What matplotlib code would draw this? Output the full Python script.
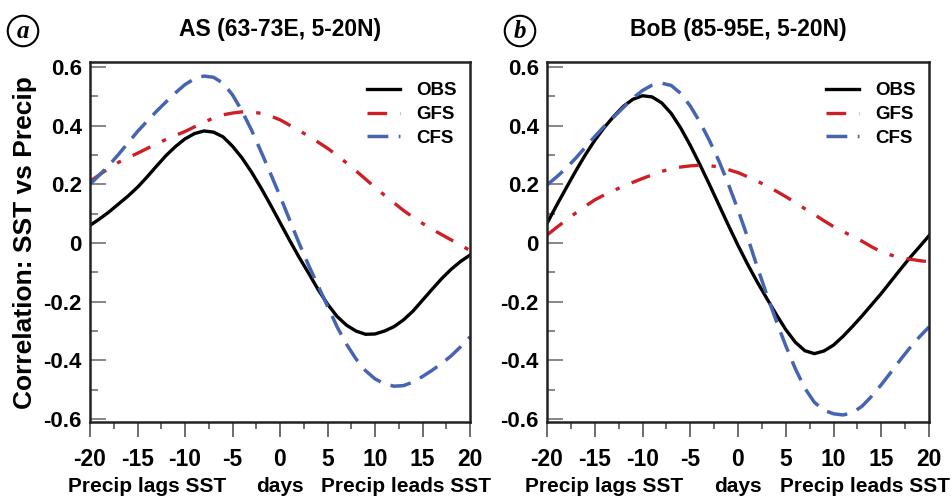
import numpy as np
import matplotlib
matplotlib.use("Agg")
import matplotlib.pyplot as plt
from matplotlib.ticker import MultipleLocator

plt.rcParams['font.family'] = ['Liberation Sans', 'DejaVu Sans']
plt.rcParams['font.weight'] = 'bold'
plt.rcParams['axes.unicode_minus'] = False

# lag in days (negative: precip lags SST)
days = list(range(-20, 21))

# Arabian Sea box
as_obs = [0.060, 0.082, 0.106, 0.133, 0.160, 0.190, 0.225, 0.262, 0.298, 0.329,
          0.355, 0.373, 0.382, 0.378, 0.362, 0.330, 0.290, 0.242, 0.188, 0.130,
          0.070, 0.010, -0.048, -0.102, -0.158, -0.208, -0.250, -0.280, -0.300, -0.311,
          -0.310, -0.300, -0.285, -0.262, -0.232, -0.195, -0.158, -0.122, -0.090, -0.063,
          -0.041]
as_gfs = [0.210, 0.233, 0.255, 0.275, 0.291, 0.306, 0.322, 0.338, 0.353, 0.367,
          0.380, 0.396, 0.412, 0.426, 0.437, 0.443, 0.447, 0.447, 0.442, 0.433,
          0.420, 0.402, 0.384, 0.364, 0.344, 0.323, 0.299, 0.273, 0.246, 0.218,
          0.190, 0.163, 0.137, 0.111, 0.088, 0.067, 0.047, 0.029, 0.011, -0.008,
          -0.025]
as_cfs = [0.200, 0.232, 0.265, 0.302, 0.341, 0.380, 0.415, 0.449, 0.481, 0.512,
          0.540, 0.560, 0.569, 0.565, 0.545, 0.505, 0.450, 0.385, 0.312, 0.237,
          0.160, 0.080, 0.000, -0.075, -0.145, -0.215, -0.285, -0.345, -0.395, -0.435,
          -0.463, -0.480, -0.488, -0.486, -0.474, -0.455, -0.434, -0.411, -0.385, -0.354,
          -0.320]

# Bay of Bengal box
bob_obs = [0.067, 0.128, 0.187, 0.245, 0.300, 0.350, 0.394, 0.432, 0.466, 0.490,
           0.502, 0.498, 0.478, 0.442, 0.392, 0.333, 0.268, 0.200, 0.130, 0.060,
           -0.008, -0.072, -0.132, -0.188, -0.243, -0.295, -0.338, -0.367, -0.377, -0.368,
           -0.348, -0.318, -0.284, -0.248, -0.210, -0.172, -0.131, -0.090, -0.050, -0.013,
           0.025]
bob_gfs = [0.027, 0.053, 0.078, 0.102, 0.125, 0.147, 0.164, 0.179, 0.194, 0.207,
           0.220, 0.232, 0.244, 0.253, 0.259, 0.263, 0.265, 0.264, 0.259, 0.250,
           0.240, 0.226, 0.211, 0.195, 0.177, 0.158, 0.138, 0.117, 0.097, 0.076,
           0.056, 0.039, 0.023, 0.006, -0.013, -0.030, -0.041, -0.049, -0.055, -0.060,
           -0.064]
bob_cfs = [0.198, 0.225, 0.255, 0.289, 0.326, 0.363, 0.398, 0.430, 0.462, 0.494,
           0.520, 0.538, 0.545, 0.537, 0.510, 0.467, 0.413, 0.350, 0.280, 0.200,
           0.113, 0.020, -0.080, -0.175, -0.265, -0.350, -0.428, -0.495, -0.543, -0.570,
           -0.582, -0.586, -0.578, -0.556, -0.522, -0.483, -0.441, -0.398, -0.357, -0.320,
           -0.286]

panels = [
    ("AS (63-73E, 5-20N)", "a", as_obs, as_gfs, as_cfs),
    ("BoB (85-95E, 5-20N)", "b", bob_obs, bob_gfs, bob_cfs),
]

W, H = 952, 501
fig = plt.figure(figsize=(W / 100, H / 100), dpi=100)

lefts = [90, 547]
widths = [380, 382]
for i, (title, tag, obs, gfs, cfs) in enumerate(panels):
    ax = fig.add_axes([lefts[i] / W, 1 - 422 / H, widths[i] / W, 360 / H])
    ax.plot(days, obs, color='black', lw=2.4, label='OBS')
    ax.plot(days, gfs, color='#cf1f26', lw=2.4, ls=(0, (5.9, 3.9, 1.3, 3.9)), label='GFS')
    ax.plot(days, cfs, color='#4664b0', lw=2.5, ls=(0, (6, 3)), label='CFS')

    ax.set_xlim(-20, 20)
    ax.set_ylim(-0.61, 0.617)
    ax.xaxis.set_major_locator(MultipleLocator(5))
    ax.xaxis.set_minor_locator(MultipleLocator(2.5))
    ax.yaxis.set_minor_locator(MultipleLocator(0.1))
    ax.set_yticks([-0.6, -0.4, -0.2, 0, 0.2, 0.4, 0.6])
    ax.set_yticklabels(['-0.6', '-0.4', '-0.2', '0', '0.2', '0.4', '0.6'])
    ax.tick_params(axis='x', which='major', direction='out', length=11, width=1.1,
                   color='#444444', labelsize=16.5, pad=8)
    ax.tick_params(axis='x', which='minor', direction='out', length=5, width=1.1,
                   color='#444444')
    ax.tick_params(axis='y', which='major', direction='in', length=11.5, width=1.1,
                   color='#666666', labelsize=16, pad=6)
    ax.tick_params(axis='y', which='minor', direction='in', length=6, width=1.1,
                   color='#666666')
    for s in ax.spines.values():
        s.set_linewidth(1.8)
        s.set_color('#222222')

    ax.set_title(title, fontsize=16.5, fontweight='bold', pad=19)

    leg = ax.legend(loc='upper right', bbox_to_anchor=(1.0, 0.98), frameon=False,
                    prop={'size': 13.5, 'weight': 'bold'}, handlelength=1.8,
                    handletextpad=0.85, labelspacing=0.35, borderaxespad=0.3)

    # axis annotations under the day ticks
    for d, txt in [(-14, 'Precip lags SST'), (0, 'days'), (13.3, 'Precip leads SST')]:
        ax.text(d, -0.830, txt, ha='center', va='center', fontsize=15,
                fontweight='bold', clip_on=False)

    # circled panel letter
    cx = [23, 520][i]
    fig.text(cx / W, 1 - 31 / H, tag, ha='center', va='center', fontsize=18,
             family=['Liberation Serif', 'DejaVu Serif'], style='italic',
             fontweight='bold',
             bbox=dict(boxstyle='circle,pad=0.15', fc='white', ec='black', lw=1.5))

fig.text(25 / W, 1 - 243 / H, 'Correlation: SST vs Precip', rotation=90,
         ha='center', va='center', fontsize=19, fontweight='bold')

fig.savefig('out.png', dpi=100)
